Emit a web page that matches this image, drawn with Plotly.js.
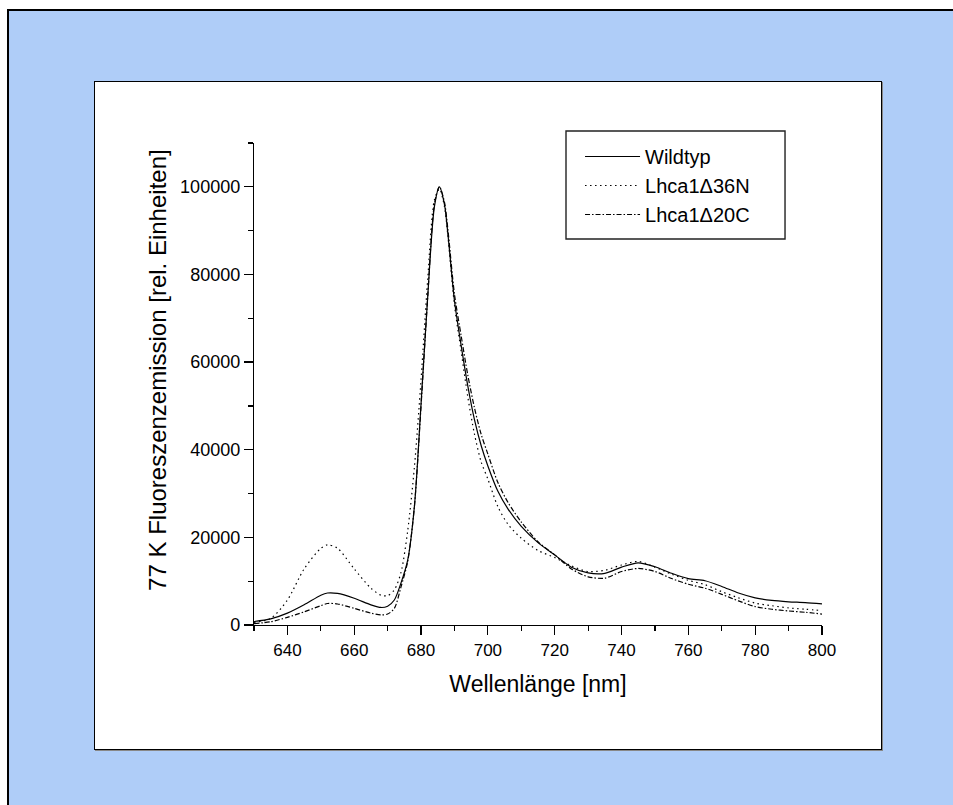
<!DOCTYPE html>
<html>
<head>
<meta charset="utf-8">
<script src="https://cdn.plot.ly/plotly-3.0.1.min.js"></script>
<style>
  html, body { margin: 0; padding: 0; background: #ffffff; overflow: hidden; }
  #frame {
    position: absolute; left: 7px; top: 9px; width: 946px; height: 796px;
    background: #afcdf8; border-left: 2px solid #000; border-top: 2px solid #000;
    box-sizing: border-box;
  }
  #card {
    position: absolute; left: 94px; top: 81px; width: 786px; height: 667px;
    background: #ffffff; border: 1.5px solid #000; box-shadow: 1px 1px 0 #888;
  }
  #chart { position: absolute; left: 0; top: 0; width: 953px; height: 805px; }
</style>
</head>
<body>
<div id="frame"></div>
<div id="card"></div>
<div id="chart"></div>
<script>
// Emission wavelengths (nm)
const wavelength = [630, 635, 640, 645, 650, 652, 655, 660, 665, 668, 670, 672, 674, 676, 678,
  680, 682, 684, 685.5, 687, 688, 690, 692, 694, 696, 698, 700, 703, 706, 710, 715, 720, 725,
  730, 735, 740, 745, 750, 755, 760, 765, 770, 775, 780, 785, 790, 795, 800];

// 77 K fluorescence emission, relative units
const wildtyp = [800, 1400, 2700, 4600, 6800, 7300, 7200, 6100, 4600, 4000, 4300, 5700, 9600, 14800, 27000,
  50500, 75000, 95500, 100000, 96000, 89500, 74000, 63800, 54500, 46800, 40900, 36300, 30500, 26500, 22500, 18800, 16000, 13200,
  11900, 11800, 13200, 14200, 13300, 11800, 10600, 10100, 8800, 7300, 6200, 5600, 5300, 5100, 4800];

const lhca1d36N = [600, 1500, 5700, 12800, 17500, 18300, 17500, 12800, 8400, 6800, 6700, 8000, 12000, 21500, 36000,
  56000, 79000, 97000, 99500, 95500, 89000, 73000, 62500, 52000, 43500, 37200, 33300, 27000, 23000, 19800, 17000, 15400, 13500,
  12200, 12500, 13700, 14500, 13200, 11600, 10200, 9200, 7600, 6200, 5000, 4400, 3900, 3600, 3300];

const lhca1d20C = [300, 750, 1750, 3000, 4400, 4900, 4800, 3800, 2700, 2300, 2500, 3800, 8700, 14500, 27000,
  50000, 75000, 96000, 100000, 96500, 90500, 75500, 66000, 57000, 49500, 43500, 39000, 32500, 28000, 23500, 19000, 16000, 12800,
  11000, 10700, 12200, 12900, 12200, 10600, 9300, 8400, 7000, 5500, 4200, 3600, 3200, 2900, 2500];

const seriesNames = ['Wildtyp', 'Lhca1\u039436N', 'Lhca1\u039420C'];

const FONT = 'Liberation Sans, Arial, Helvetica, sans-serif';

const traces = [
  { x: wavelength, y: wildtyp, name: seriesNames[0], type: 'scatter', mode: 'lines',
    line: { color: '#000', width: 1.2, shape: 'spline', smoothing: 0.8 } },
  { x: wavelength, y: lhca1d36N, name: seriesNames[1], type: 'scatter', mode: 'lines',
    line: { color: '#000', width: 1.2, shape: 'spline', smoothing: 0.8, dash: '1.5px,3.5px' } },
  { x: wavelength, y: lhca1d20C, name: seriesNames[2], type: 'scatter', mode: 'lines',
    line: { color: '#000', width: 1.2, shape: 'spline', smoothing: 0.8, dash: '5px,2px,1.5px,2px' } }
];

const layout = {
  width: 953, height: 805,
  margin: { l: 254, r: 131, t: 143, b: 180 },
  paper_bgcolor: 'rgba(0,0,0,0)',
  plot_bgcolor: 'rgba(0,0,0,0)',
  font: { family: FONT, color: '#000', size: 17 },
  showlegend: true,
  legend: {
    x: 0.574, y: 1.0124, xanchor: 'left', yanchor: 'top',
    bgcolor: 'rgba(0,0,0,0)', borderwidth: 0,
    font: { family: FONT, size: 20, color: '#000' },
    itemwidth: 55
  },
  // framed box behind the legend entries
  shapes: [{
    type: 'rect', xref: 'paper', yref: 'paper',
    x0: 0.5493, x1: 0.9349, y0: 0.8008, y1: 1.0249,
    fillcolor: '#fff', line: { color: '#222', width: 1.4 }, layer: 'below'
  }],
  annotations: [{
    text: '77 K Fluoreszenzemission [rel. Einheiten]',
    xref: 'paper', yref: 'paper', x: -0.171, y: 0.529,
    xanchor: 'center', yanchor: 'middle', textangle: -90, showarrow: false,
    font: { family: FONT, size: 24, color: '#000' }
  }],
  xaxis: {
    range: [630, 800], tick0: 640, dtick: 20,
    showline: true, linecolor: '#000', linewidth: 1.2,
    ticks: 'outside', ticklen: 9, tickwidth: 1.2, tickcolor: '#000',
    minor: { dtick: 10, ticks: 'outside', ticklen: 5, tickwidth: 1.2, tickcolor: '#000' },
    showgrid: false, zeroline: false,
    tickfont: { family: FONT, size: 17 },
    title: { text: 'Wellenlänge [nm]', font: { family: FONT, size: 23 }, standoff: 17 }
  },
  yaxis: {
    range: [0, 110000], tick0: 0, dtick: 20000, tickformat: 'd',
    showline: true, linecolor: '#000', linewidth: 1.2,
    ticks: 'outside', ticklen: 9, tickwidth: 1.2, tickcolor: '#000',
    minor: { dtick: 10000, ticks: 'outside', ticklen: 5, tickwidth: 1.2, tickcolor: '#000' },
    showgrid: false, zeroline: false,
    tickfont: { family: FONT, size: 18 }
  }
};

Plotly.newPlot('chart', traces, layout, { displayModeBar: false, staticPlot: true });
</script>
</body>
</html>
